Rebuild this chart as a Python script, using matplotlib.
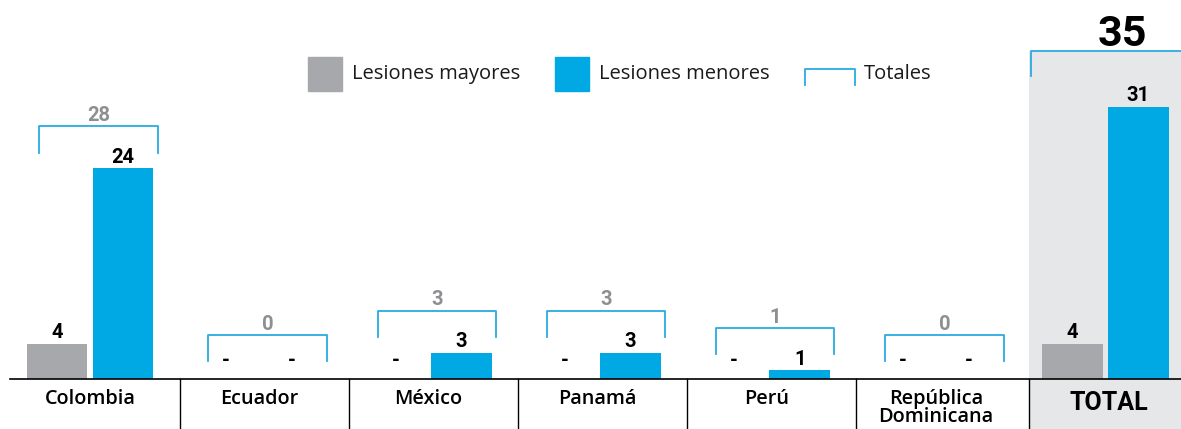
import matplotlib
matplotlib.use("Agg")
import matplotlib.pyplot as plt
from matplotlib.patches import Rectangle

# data
categorias = ['Colombia', 'Ecuador', 'México', 'Panamá', 'Perú', 'República\nDominicana']
mayores = [4, 0, 0, 0, 0, 0]
menores = [24, 0, 3, 3, 1, 0]
total_label = 'TOTAL'
legend_labels = ['Lesiones mayores', 'Lesiones menores', 'Totales']

GRAY = '#A7A8AB'
BLUE = '#00A9E4'
LINE = '#29ABE2'
NUMGRAY = '#8E8F93'
PANEL = '#E6E7E9'

COND = ['Roboto', 'DejaVu Sans']
LABEL = ['Open Sans', 'Noto Sans', 'DejaVu Sans']

total_may = sum(mayores)
total_men = sum(menores)
totales = [a + b for a, b in zip(mayores, menores)]

fig = plt.figure(figsize=(11.81, 4.29), dpi=100)
ax = fig.add_axes([0, 0, 1, 1])
ax.set_xlim(-0.532, 6.448)
ax.set_ylim(-5.69, 43.17)
ax.axis('off')

n = len(categorias)
xs = list(range(n)) + [n]
all_may = mayores + [total_may]
all_men = menores + [total_men]
off = 0.195
bw = 0.36
bshift = 0.05

# total panel
total_top = total_men + 6.4
ax.add_patch(Rectangle((n - 0.45, -6), 1.2, total_top + 6, color=PANEL, zorder=0, lw=0))

ax.bar([x - off for x in xs], all_may, width=bw, color=GRAY, zorder=2)
ax.bar([x + off for x in xs], all_men, width=bw, color=BLUE, zorder=2)

for x, a, b in zip(xs, all_may, all_men):
    for dx, v in ((-off, a), (off, b)):
        if v > 0:
            ax.annotate(str(v), (x + dx, v), xytext=(0, 4), textcoords='offset points',
                        ha='center', va='baseline', fontsize=14.5, fontweight='bold',
                        family=COND, color='black')
        else:
            ax.text(x + dx, 1.5, '-', ha='center', va='baseline', fontsize=14.5,
                    fontweight='bold', family=COND, color='black')

# brackets
for x, a, b, t in zip(range(n), mayores, menores, totales):
    top = max(max(a, b) + 4.8, 5.0)
    cx = x + bshift
    ax.plot([cx - 0.35, cx - 0.35, cx + 0.35, cx + 0.35], [top - 3.0, top, top, top - 3.0],
            color=LINE, lw=1.3, zorder=3)
    ax.annotate(str(t), (cx, top), xytext=(0, 4), textcoords='offset points',
                ha='center', va='baseline', fontsize=14.5, fontweight='bold',
                family=COND, color=NUMGRAY)

# total bracket
ax.plot([n - 0.437, n - 0.437, n + 0.5], [total_top - 2.9, total_top, total_top],
        color=LINE, lw=1.3, zorder=3)
ax.annotate(str(total_may + total_men), (n + 0.1, total_top), xytext=(0, 3.5),
            textcoords='offset points', ha='center', va='baseline', fontsize=31,
            fontweight='bold', family=COND, color='black')

# baseline and separators
ax.plot([-0.47, 6.5], [0, 0], color='black', lw=1.2, zorder=4)
for i in range(n - 1):
    ax.plot([i + 0.53, i + 0.53], [0, -6], color='black', lw=1.0, zorder=4)
ax.plot([n - 0.45, n - 0.45], [0, -6], color='black', lw=1.0, zorder=4)

for i, c in enumerate(categorias):
    ax.text(i, -1.1, c, ha='center', va='top', fontsize=14.3, family=LABEL,
            fontweight='semibold', color='black', linespacing=0.92)
ax.text(n + 0.02, -2.7, total_label, ha='center', va='center', fontsize=18,
        fontweight='bold', family=COND, color='black')

# legend (figure pixel coords)
H = 429
def fy(y):
    return 1 - y / H

legend_items = [(308, GRAY, legend_labels[0]), (555, BLUE, legend_labels[1])]
for x0, col, lab in legend_items:
    fig.patches.append(Rectangle((x0 / 1181, fy(91)), 34 / 1181, 34 / H, color=col,
                                 transform=fig.transFigure, figure=fig))
    fig.text((x0 + 44) / 1181, fy(74), lab, ha='left', va='center', fontsize=14.5,
             family=LABEL, color='#1a1a1a')
fig.lines.append(plt.Line2D([805 / 1181, 805 / 1181, 855 / 1181, 855 / 1181],
                            [fy(85), fy(69), fy(69), fy(85)], color=LINE, lw=1.3,
                            transform=fig.transFigure))
fig.text(864 / 1181, fy(74), legend_labels[2], ha='left', va='center', fontsize=14.5,
         family=LABEL, color='#1a1a1a')

fig.savefig('out.png', dpi=100)
